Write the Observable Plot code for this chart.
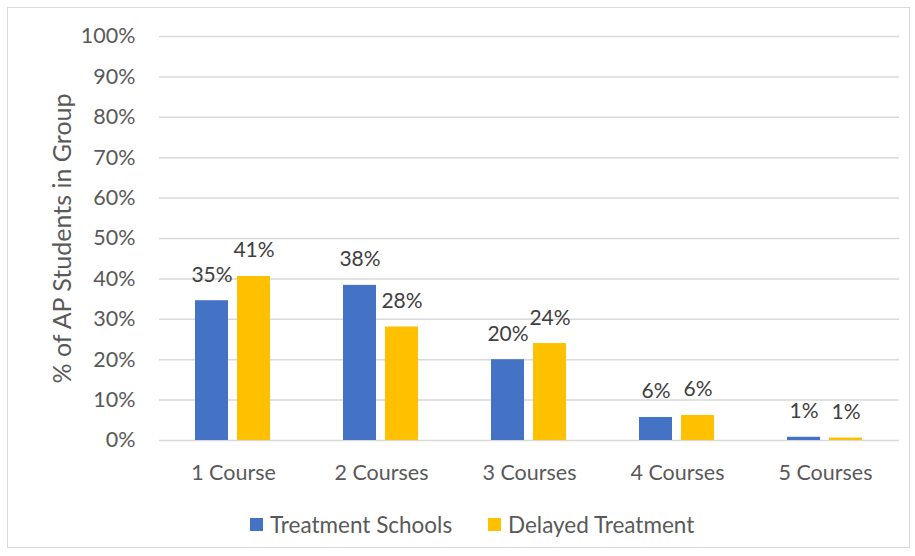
<!DOCTYPE html>
<html><head><meta charset="utf-8">
<script src="https://cdn.jsdelivr.net/npm/d3@7"></script>
<script src="https://cdn.jsdelivr.net/npm/@observablehq/plot@0.6"></script>
<style>
body{margin:0;background:#fff;font-family:Lato,sans-serif;width:915px;height:556px;overflow:hidden;}
#frame{position:absolute;left:7px;top:7px;width:903px;height:541px;border:1px solid #d9d9d9;box-sizing:border-box;}
#chart{position:absolute;left:0;top:0;}
#legend{position:absolute;top:511px;left:0;font-size:22.5px;color:#595959;}
#legend .item{position:absolute;top:0;display:flex;align-items:center;white-space:nowrap;}
#legend .sw{width:13px;height:13px;margin-right:7px;}
</style></head>
<body>
<div id="frame"></div>
<div id="chart"></div>
<div id="legend"></div>
<script>
const categories = ["1 Course","2 Courses","3 Courses","4 Courses","5 Courses"];
const seriesNames = ["Treatment Schools","Delayed Treatment"];
const treatment = [0.346,0.384,0.200,0.057,0.008];
const delayed = [0.406,0.281,0.240,0.062,0.006];
const colors = ["#4472C4","#FFC000"];
const yTicks = [0,0.1,0.2,0.3,0.4,0.5,0.6,0.7,0.8,0.9,1.0];

const data = [];
categories.forEach((c,i)=>{
  data.push({category:c, series:seriesNames[0], value:treatment[i]});
  data.push({category:c, series:seriesNames[1], value:delayed[i]});
});
const fmt = d3.format(".0%");

const chart = Plot.plot({
  width:915, height:490,
  marginLeft:157, marginRight:15, marginTop:36, marginBottom:50,
  style:{fontFamily:"Lato, sans-serif", background:"transparent"},
  fx:{domain:categories, padding:0},
  x:{domain:seriesNames, paddingInner:0.214, paddingOuter:0.857, axis:null},
  y:{domain:[0,1]},
  color:{domain:seriesNames, range:colors},
  marks:[
    Plot.gridY(yTicks,{stroke:"#d9d9d9", strokeOpacity:1, strokeWidth:1.5}),
    Plot.axisY(yTicks,{tickFormat:".0%", tickSize:0, tickPadding:24, fontSize:21.5, fill:"#595959", label:null}),
    Plot.text(["% of AP Students in Group"],{frameAnchor:"left", dx:-97, rotate:-90, textAnchor:"middle", lineAnchor:"middle", fontSize:25, fill:"#595959", facet:"super"}),
    Plot.axisFx({anchor:"bottom", tickSize:0, tickPadding:24, fontSize:21.5, fill:"#595959", label:null}),
    Plot.barY(data,{fx:"category", x:"series", y:"value", fill:"series"}),
    Plot.text(data,{fx:"category", x:"series", y:"value", text:d=>fmt(d.value),
      lineAnchor:"bottom", dy:-19, fontSize:21, fill:"#404040"})
  ]
});
document.getElementById("chart").appendChild(chart);

const lg = document.getElementById("legend");
const legendLeft = [250, 488];
seriesNames.forEach((s,i)=>{
  const it = document.createElement("div"); it.className="item"; it.style.left = legendLeft[i]+"px";
  const sw = document.createElement("div"); sw.className="sw"; sw.style.background=colors[i];
  const t = document.createElement("span"); t.textContent=s;
  it.appendChild(sw); it.appendChild(t); lg.appendChild(it);
});
</script>
</body></html>
